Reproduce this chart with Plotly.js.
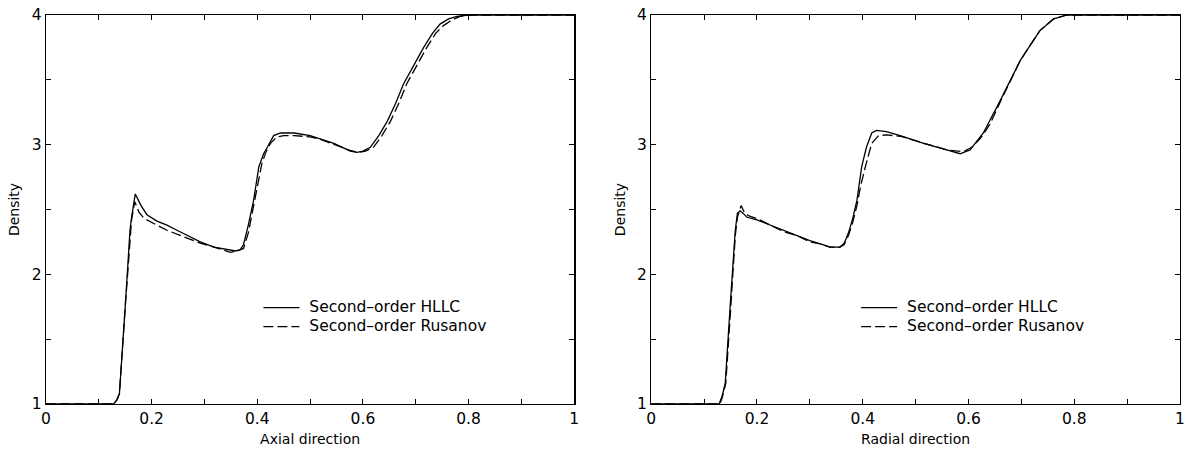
<!DOCTYPE html>
<html>
<head>
<meta charset="utf-8">
<script src="https://cdn.plot.ly/plotly-3.0.1.min.js"></script>
<style>html,body{margin:0;padding:0;background:#fff;}#chart{width:1192px;height:452px;}</style>
</head>
<body>
<div id="chart"></div>
<script>
// Left panel (axial direction)
const axialHllcX = [0, 0.128, 0.134, 0.139, 0.150, 0.159, 0.162, 0.169, 0.18, 0.191, 0.21, 0.229, 0.248, 0.267, 0.292, 0.318, 0.343, 0.359, 0.368, 0.374, 0.383, 0.393, 0.403, 0.412, 0.419, 0.431, 0.444, 0.47, 0.50, 0.52, 0.545, 0.576, 0.589, 0.60, 0.614, 0.63, 0.646, 0.662, 0.677, 0.696, 0.715, 0.732, 0.746, 0.762, 0.778, 0.80, 0.85, 1];
const axialHllcY = [1, 1, 1.03, 1.08, 1.75, 2.34, 2.44, 2.62, 2.53, 2.46, 2.41, 2.38, 2.34, 2.30, 2.25, 2.21, 2.19, 2.18, 2.19, 2.23, 2.38, 2.57, 2.83, 2.93, 2.98, 3.07, 3.09, 3.09, 3.07, 3.045, 3.01, 2.95, 2.94, 2.95, 2.98, 3.07, 3.18, 3.32, 3.47, 3.61, 3.75, 3.86, 3.93, 3.97, 3.99, 4.0, 4.0, 4.0];
const axialRusX = [0, 0.127, 0.134, 0.139, 0.150, 0.159, 0.162, 0.168, 0.176, 0.186, 0.2, 0.229, 0.267, 0.292, 0.318, 0.349, 0.362, 0.374, 0.383, 0.393, 0.401, 0.409, 0.417, 0.425, 0.437, 0.45, 0.47, 0.5, 0.52, 0.545, 0.576, 0.592, 0.605, 0.62, 0.636, 0.652, 0.668, 0.683, 0.702, 0.721, 0.738, 0.753, 0.768, 0.784, 0.805, 0.85, 1];
const axialRusY = [1, 1, 1.03, 1.08, 1.75, 2.30, 2.42, 2.56, 2.48, 2.43, 2.40, 2.34, 2.28, 2.24, 2.21, 2.17, 2.18, 2.20, 2.32, 2.52, 2.70, 2.86, 2.95, 3.01, 3.06, 3.07, 3.07, 3.06, 3.04, 3.00, 2.955, 2.94, 2.95, 2.98, 3.07, 3.18, 3.32, 3.47, 3.61, 3.75, 3.86, 3.92, 3.96, 3.99, 4.0, 4.0, 4.0];

// Right panel (radial direction)
const radialHllcX = [0, 0.1285, 0.134, 0.140, 0.150, 0.159, 0.163, 0.168, 0.174, 0.181, 0.2, 0.225, 0.25, 0.275, 0.30, 0.32, 0.338, 0.357, 0.365, 0.373, 0.381, 0.389, 0.398, 0.407, 0.417, 0.426, 0.445, 0.471, 0.515, 0.559, 0.584, 0.603, 0.628, 0.66, 0.698, 0.735, 0.761, 0.786, 0.82, 1];
const radialHllcY = [1, 1, 1.06, 1.16, 1.80, 2.34, 2.47, 2.49, 2.47, 2.44, 2.42, 2.38, 2.34, 2.30, 2.26, 2.235, 2.21, 2.21, 2.24, 2.32, 2.43, 2.57, 2.83, 2.98, 3.09, 3.11, 3.10, 3.07, 3.01, 2.96, 2.93, 2.96, 3.09, 3.34, 3.65, 3.88, 3.97, 4.0, 4.0, 4.0];
const radialRusX = [0, 0.13, 0.135, 0.141, 0.150, 0.159, 0.163, 0.170, 0.177, 0.185, 0.2, 0.225, 0.25, 0.275, 0.30, 0.32, 0.338, 0.357, 0.365, 0.373, 0.381, 0.389, 0.397, 0.405, 0.411, 0.417, 0.430, 0.445, 0.471, 0.515, 0.559, 0.59, 0.606, 0.623, 0.641, 0.66, 0.698, 0.735, 0.761, 0.786, 0.82, 1];
const radialRusY = [1, 1, 1.06, 1.16, 1.72, 2.30, 2.44, 2.53, 2.47, 2.45, 2.43, 2.38, 2.33, 2.30, 2.25, 2.235, 2.21, 2.21, 2.23, 2.30, 2.40, 2.53, 2.70, 2.83, 2.93, 3.01, 3.07, 3.075, 3.065, 3.01, 2.96, 2.945, 2.98, 3.05, 3.16, 3.33, 3.65, 3.88, 3.97, 4.0, 4.0, 4.0];

const seriesNames = ['Second\u2013order HLLC', 'Second\u2013order Rusanov'];
const xTitles = ['Axial direction', 'Radial direction'];
const yTitle = 'Density';

const FONT = 'DejaVu Sans, Liberation Sans, Arial, sans-serif';
function legendLabel(s) { return '<span style="font-size:15.5px">\u00a0' + s + '</span>'; }
const solid = {color: '#000', width: 1.3, dash: 'solid'};
const dashed = {color: '#000', width: 1.3, dash: '10px,4px'};

const traces = [
  {x: axialHllcX, y: axialHllcY, name: legendLabel(seriesNames[0]), mode: 'lines', line: solid, xaxis: 'x', yaxis: 'y', legend: 'legend'},
  {x: axialRusX, y: axialRusY, name: legendLabel(seriesNames[1]), mode: 'lines', line: dashed, xaxis: 'x', yaxis: 'y', legend: 'legend'},
  {x: radialHllcX, y: radialHllcY, name: legendLabel(seriesNames[0]), mode: 'lines', line: solid, xaxis: 'x2', yaxis: 'y2', legend: 'legend2'},
  {x: radialRusX, y: radialRusY, name: legendLabel(seriesNames[1]), mode: 'lines', line: dashed, xaxis: 'x2', yaxis: 'y2', legend: 'legend2'}
];

function xAxis(domain, title, anchor) {
  return {
    domain: domain, anchor: anchor, range: [0, 1], dtick: 0.2, tick0: 0,
    ticks: 'inside', ticklen: 5, tickwidth: 1, tickcolor: '#000',
    minor: {dtick: 0.1, ticks: 'inside', ticklen: 5, tickwidth: 1, tickcolor: '#000'},
    showline: true, linecolor: '#000', linewidth: 1.3, mirror: 'ticks',
    showgrid: false, zeroline: false,
    tickfont: {family: FONT, size: 15.5, color: '#000'},
    title: {text: title, font: {family: FONT, size: 14, color: '#000'}, standoff: 7},
    automargin: false
  };
}
function yAxis(anchor) {
  return {
    domain: [0, 1], anchor: anchor, range: [1, 4], dtick: 1, tick0: 1,
    ticks: 'inside', ticklen: 5, tickwidth: 1, tickcolor: '#000',
    minor: {dtick: 0.5, ticks: 'inside', ticklen: 5, tickwidth: 1, tickcolor: '#000'},
    showline: true, linecolor: '#000', linewidth: 1.3, mirror: 'ticks',
    showgrid: false, zeroline: false,
    tickfont: {family: FONT, size: 15.5, color: '#000'},
    title: {text: yTitle, font: {family: FONT, size: 14, color: '#000'}, standoff: 8},
    automargin: false
  };
}

const legendBase = {
  font: {family: FONT, size: 12, color: '#000'},
  bgcolor: 'rgba(0,0,0,0)', borderwidth: 0,
  xanchor: 'left', yanchor: 'top', itemclick: false, itemdoubleclick: false,
  tracegroupgap: 0, itemwidth: 36
};

const layout = {
  width: 1192, height: 452,
  margin: {l: 45.5, r: 12, t: 15, b: 48},
  paper_bgcolor: '#fff', plot_bgcolor: '#fff',
  showlegend: true,
  xaxis: xAxis([0, 0.4658], xTitles[0], 'y'),
  yaxis: yAxis('x'),
  xaxis2: xAxis([0.5337, 1], xTitles[1], 'y2'),
  yaxis2: yAxis('x2'),
  legend: Object.assign({}, legendBase, {x: 0.1873, y: 0.285}),
  legend2: Object.assign({}, legendBase, {x: 0.7144, y: 0.285})
};

Plotly.newPlot('chart', traces, layout, {staticPlot: true, displayModeBar: false});
</script>
</body>
</html>
